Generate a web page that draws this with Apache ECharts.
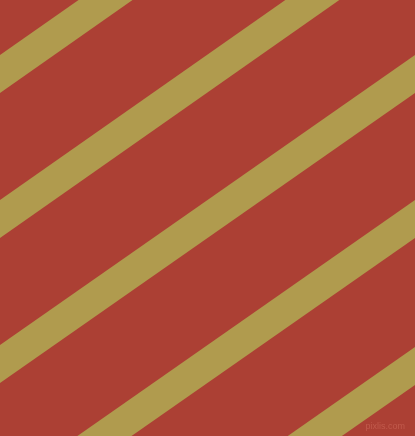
<!DOCTYPE html>
<html>
<head>
<meta charset="utf-8">
<script src="https://cdn.jsdelivr.net/npm/echarts@6/dist/echarts.min.js"></script>
<style>html,body{margin:0;padding:0;background:#AC4034;}#c{width:415px;height:436px;}</style>
</head>
<body>
<div id="c"></div>
<script>
// stripe centre-line y at the left edge (x = 0) and right edge (x = 415)
const stripeLeftY = [74, 219, 364, 509, 656];
const stripeRightY = [-217, -72, 74, 219, 366];
const xLeft = 0, xRight = 415;
const stripeColor = '#B09B4E';
const bgColor = '#AC4034';

const chart = echarts.init(document.getElementById('c'));
const series = stripeLeftY.map((ly, i) => {
  const ry = stripeRightY[i];
  const slope = (ry - ly) / (xRight - xLeft);
  const ext = 60;
  return {
    type: 'line',
    data: [[xLeft - ext, ly - slope * ext], [xRight + ext, ry + slope * ext]],
    symbol: 'none',
    clip: true,
    silent: true,
    lineStyle: { color: stripeColor, width: 31, cap: 'butt' },
    animation: false
  };
});
chart.setOption({
  backgroundColor: bgColor,
  animation: false,
  grid: { left: 0, right: 0, top: 0, bottom: 0, containLabel: false },
  xAxis: { type: 'value', min: 0, max: 415, show: false },
  yAxis: { type: 'value', min: 0, max: 436, inverse: true, show: false },
  title: {
    text: 'pixlis.com', right: 10, bottom: 5, padding: 0,
    textStyle: { fontSize: 9, fontWeight: 'normal', color: '#C15A4C', fontFamily: 'Liberation Sans' }
  },
  series: series
});
</script>
</body>
</html>
